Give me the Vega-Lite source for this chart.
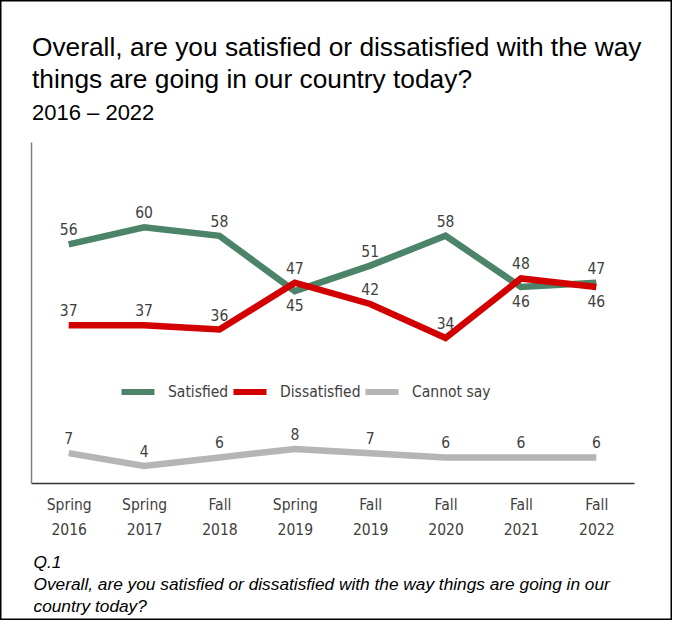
{
  "$schema": "https://vega.github.io/schema/vega-lite/v6.json",
  "width": 672,
  "height": 620,
  "autosize": "none",
  "padding": 0,
  "background": "white",
  "config": {
    "view": {"stroke": "black", "strokeWidth": 3},
    "font": "DejaVu Sans Condensed, DejaVu Sans, sans-serif"
  },
  "title": {
    "text": ["Overall, are you satisfied or dissatisfied with the way", "things are going in our country today?"],
    "subtitle": "2016 – 2022",
    "anchor": "start",
    "frame": "group",
    "orient": "top",
    "offset": -124,
    "dx": 32,
    "font": "Liberation Sans, Arial, sans-serif",
    "fontSize": 26.3,
    "fontWeight": "normal",
    "color": "black",
    "lineHeight": 32,
    "subtitleFont": "Liberation Sans, Arial, sans-serif",
    "subtitleFontSize": 22,
    "subtitleColor": "black",
    "subtitlePadding": 10
  },
  "data": {
    "values": [
      {"series": "Satisfied", "period": "Spring 2016", "value": 56},
      {"series": "Satisfied", "period": "Spring 2017", "value": 60},
      {"series": "Satisfied", "period": "Fall 2018", "value": 58},
      {"series": "Satisfied", "period": "Spring 2019", "value": 45},
      {"series": "Satisfied", "period": "Fall 2019", "value": 51},
      {"series": "Satisfied", "period": "Fall 2020", "value": 58},
      {"series": "Satisfied", "period": "Fall 2021", "value": 46},
      {"series": "Satisfied", "period": "Fall 2022", "value": 47},
      {"series": "Dissatisfied", "period": "Spring 2016", "value": 37},
      {"series": "Dissatisfied", "period": "Spring 2017", "value": 37},
      {"series": "Dissatisfied", "period": "Fall 2018", "value": 36},
      {"series": "Dissatisfied", "period": "Spring 2019", "value": 47},
      {"series": "Dissatisfied", "period": "Fall 2019", "value": 42},
      {"series": "Dissatisfied", "period": "Fall 2020", "value": 34},
      {"series": "Dissatisfied", "period": "Fall 2021", "value": 48},
      {"series": "Dissatisfied", "period": "Fall 2022", "value": 46},
      {"series": "Cannot say", "period": "Spring 2016", "value": 7},
      {"series": "Cannot say", "period": "Spring 2017", "value": 4},
      {"series": "Cannot say", "period": "Fall 2018", "value": 6},
      {"series": "Cannot say", "period": "Spring 2019", "value": 8},
      {"series": "Cannot say", "period": "Fall 2019", "value": 7},
      {"series": "Cannot say", "period": "Fall 2020", "value": 6},
      {"series": "Cannot say", "period": "Fall 2021", "value": 6},
      {"series": "Cannot say", "period": "Fall 2022", "value": 6}
    ]
  },
  "encoding": {
    "x": {
      "field": "period",
      "type": "ordinal",
      "sort": null,
      "scale": {"type": "point", "range": [31, 634], "padding": 0.5},
      "axis": {
        "orient": "bottom",
        "offset": -137,
        "domainColor": "#333333",
        "domainWidth": 1.5,
        "ticks": false,
        "grid": false,
        "labelAngle": 0,
        "labelExpr": "split(datum.label, ' ')",
        "labelFontSize": 15.5,
        "labelColor": "#404040",
        "labelLineHeight": 25,
        "labelPadding": 14,
        "labelBaseline": "top",
        "title": ["Q.1", "Overall, are you satisfied or dissatisfied with the way things are going in our", "country today?"],
        "titleFont": "Liberation Sans, Arial, sans-serif",
        "titleFontStyle": "italic",
        "titleFontWeight": "normal",
        "titleFontSize": 17.3,
        "titleColor": "black",
        "titleLineHeight": 22,
        "titleAlign": "left",
        "titleAnchor": "start",
        "titleBaseline": "alphabetic",
        "titleX": 33,
        "titleY": 84
      }
    },
    "y": {
      "field": "value",
      "type": "quantitative",
      "scale": {"domain": [0, 80], "range": [483, 142], "nice": false, "zero": false},
      "axis": {
        "orient": "left",
        "offset": -31,
        "domainColor": "#808080",
        "domainWidth": 1.5,
        "ticks": false,
        "labels": false,
        "grid": false,
        "title": null
      }
    }
  },
  "layer": [
    {
      "mark": {"type": "line", "strokeWidth": 6.5, "strokeCap": "butt", "strokeJoin": "miter"},
      "encoding": {
        "color": {
          "field": "series",
          "type": "nominal",
          "sort": null,
          "scale": {"domain": ["Satisfied", "Dissatisfied", "Cannot say"], "range": ["#4b8468", "#d20000", "#b5b5b5"]},
          "legend": {
            "orient": "none",
            "legendX": 118,
            "legendY": 372,
            "direction": "horizontal",
            "title": null,
            "symbolType": "stroke",
            "symbolStrokeWidth": 6,
            "symbolSize": 1090,
            "labelFontSize": 15.5,
            "labelColor": "#404040",
            "labelOffset": 10,
            "columnPadding": -8,
            "padding": 0
          }
        }
      }
    },
    {
      "transform": [{"filter": "!((datum.series == 'Satisfied' && (datum.period == 'Spring 2019' || datum.period == 'Fall 2021')) || (datum.series == 'Dissatisfied' && datum.period == 'Fall 2022'))"}],
      "mark": {"type": "text", "dy": -14, "baseline": "middle", "fontSize": 15.5, "color": "#404040"},
      "encoding": {"text": {"field": "value", "type": "quantitative"}}
    },
    {
      "transform": [{"filter": "(datum.series == 'Satisfied' && (datum.period == 'Spring 2019' || datum.period == 'Fall 2021')) || (datum.series == 'Dissatisfied' && datum.period == 'Fall 2022')"}],
      "mark": {"type": "text", "dy": 15, "baseline": "middle", "fontSize": 15.5, "color": "#404040"},
      "encoding": {"text": {"field": "value", "type": "quantitative"}}
    }
  ]
}
